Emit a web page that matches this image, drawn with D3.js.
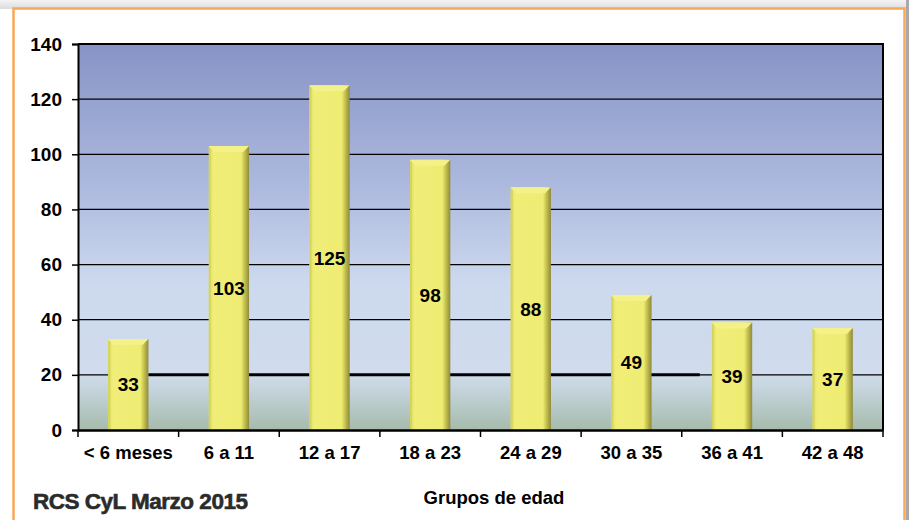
<!DOCTYPE html>
<html>
<head>
<meta charset="utf-8">
<script src="https://cdn.jsdelivr.net/npm/d3@7"></script>
<style>
  body { margin: 0; background: #ffffff; }
  text { font-family: Arial, "Liberation Sans", sans-serif; }
</style>
</head>
<body>
<div id="chart"></div>
<script>
var categories = ["< 6 meses", "6 a 11", "12 a 17", "18 a 23", "24 a 29", "30 a 35", "36 a 41", "42 a 48"];
var values = [33, 103, 125, 98, 88, 49, 39, 37];
var yTicks = [0, 20, 40, 60, 80, 100, 120, 140];

var width = 909;
var height = 520;
var plot = { left: 78, right: 883, top: 44, bottom: 430 };

var svg = d3.select("#chart")
  .append("svg")
  .attr("width", width)
  .attr("height", height);

var defs = svg.append("defs");

// soft shadow behind the frame
var sh = defs.append("linearGradient").attr("id", "topShadow").attr("x1", 0).attr("y1", 0).attr("x2", 0).attr("y2", 1);
sh.append("stop").attr("offset", "0%").attr("stop-color", "#f4f4f4");
sh.append("stop").attr("offset", "100%").attr("stop-color", "#dcdcdc");
svg.append("rect").attr("x", 0).attr("y", 0).attr("width", width).attr("height", 9).attr("fill", "url(#topShadow)");
svg.append("rect").attr("x", 906).attr("y", 0).attr("width", 3).attr("height", height).attr("fill", "#a9a9a9");

// orange frame
svg.append("rect")
  .attr("x", 13.5).attr("y", 8.5)
  .attr("width", 891).attr("height", 530)
  .attr("fill", "#ffffff")
  .attr("stroke", "#f7a85a")
  .attr("stroke-width", 2.5);

// plot background gradient
var bg = defs.append("linearGradient").attr("id", "plotBg").attr("x1", 0).attr("y1", 0).attr("x2", 0).attr("y2", 1);
bg.append("stop").attr("offset", "0%").attr("stop-color", "#8893c6");
bg.append("stop").attr("offset", "40%").attr("stop-color", "#b0bde0");
bg.append("stop").attr("offset", "62%").attr("stop-color", "#cdd9ee");
bg.append("stop").attr("offset", "85%").attr("stop-color", "#d0dcec");
bg.append("stop").attr("offset", "89%").attr("stop-color", "#c6d5de");
bg.append("stop").attr("offset", "100%").attr("stop-color", "#a6bbac");

// bar gradients
var barG = defs.append("linearGradient").attr("id", "barFace").attr("x1", 0).attr("y1", 0).attr("x2", 1).attr("y2", 0);
barG.append("stop").attr("offset", "0%").attr("stop-color", "#dede60");
barG.append("stop").attr("offset", "12%").attr("stop-color", "#f0ee78");
barG.append("stop").attr("offset", "80%").attr("stop-color", "#eeec72");
barG.append("stop").attr("offset", "88%").attr("stop-color", "#c9c550");
barG.append("stop").attr("offset", "100%").attr("stop-color", "#8e8a3c");

var x = d3.scaleBand()
  .domain(categories)
  .range([plot.left, plot.right])
  .paddingInner(0.6)
  .paddingOuter(0.3);

var xOuter = d3.scaleBand()
  .domain(categories)
  .range([plot.left, plot.right]);

var y = d3.scaleLinear()
  .domain([0, 140])
  .range([plot.bottom, plot.top]);

svg.append("rect")
  .attr("x", plot.left).attr("y", plot.top)
  .attr("width", plot.right - plot.left)
  .attr("height", plot.bottom - plot.top)
  .attr("fill", "url(#plotBg)");

// gridlines
svg.append("g")
  .selectAll("line")
  .data(yTicks.filter(d => d > 0))
  .enter()
  .append("line")
  .attr("x1", plot.left).attr("x2", plot.right)
  .attr("y1", d => y(d)).attr("y2", d => y(d))
  .attr("stroke", "#000")
  .attr("stroke-width", 1.3);

// the heavier stretch of the 20 line
svg.append("line")
  .attr("x1", x(categories[0]) + x.bandwidth())
  .attr("x2", xOuter(categories[6]) + 18)
  .attr("y1", y(20)).attr("y2", y(20))
  .attr("stroke", "#000")
  .attr("stroke-width", 3);

// bars
var bars = svg.append("g")
  .selectAll("g")
  .data(values)
  .enter()
  .append("g");

bars.append("rect")
  .attr("x", (d, i) => x(categories[i]))
  .attr("y", d => y(d))
  .attr("width", x.bandwidth())
  .attr("height", d => y(0) - y(d))
  .attr("fill", "url(#barFace)");

// top bevel
bars.append("path")
  .attr("d", (d, i) => {
    var x0 = x(categories[i]), x1 = x0 + x.bandwidth(), t = y(d);
    return "M" + x0 + "," + t + "L" + x1 + "," + t + "L" + (x1 - 6) + "," + (t + 6) + "L" + (x0 + 5) + "," + (t + 6) + "Z";
  })
  .attr("fill", "#f3f188");

// left edge highlight
bars.append("rect")
  .attr("x", (d, i) => x(categories[i]))
  .attr("y", d => y(d) + 2)
  .attr("width", 2)
  .attr("height", d => y(0) - y(d) - 2)
  .attr("fill", "#d6d45c");

bars.append("text")
  .attr("x", (d, i) => x(categories[i]) + x.bandwidth() / 2)
  .attr("y", d => (y(d) + y(0)) / 2)
  .attr("dy", "0.36em")
  .attr("text-anchor", "middle")
  .attr("font-size", 19)
  .attr("font-weight", "bold")
  .attr("fill", "#000")
  .text(d => d);

// plot frame (top and right)
svg.append("path")
  .attr("d", "M" + plot.left + "," + plot.top + "H" + plot.right + "V" + plot.bottom)
  .attr("fill", "none")
  .attr("stroke", "#000")
  .attr("stroke-width", 2);

// y axis
var yAxis = svg.append("g")
  .attr("transform", "translate(" + plot.left + ",0)")
  .call(d3.axisLeft(y).tickValues(yTicks).tickSize(6).tickPadding(10));
yAxis.select(".domain").attr("stroke-width", 2);
yAxis.selectAll(".tick line").attr("stroke-width", 1.5);
yAxis.selectAll("text")
  .attr("font-size", 19)
  .attr("font-weight", "bold")
  .attr("font-family", "Arial, 'Liberation Sans', sans-serif")
  .attr("fill", "#000");

// x axis
var xAxis = svg.append("g")
  .attr("transform", "translate(0," + plot.bottom + ")")
  .call(d3.axisBottom(xOuter).tickSize(0).tickPadding(16));
xAxis.select(".domain").attr("stroke-width", 2.5);
xAxis.selectAll("text")
  .attr("font-size", 18.5)
  .attr("font-weight", "bold")
  .attr("font-family", "Arial, 'Liberation Sans', sans-serif")
  .attr("fill", "#000");

// category boundary ticks
svg.append("g")
  .selectAll("line")
  .data(categories)
  .enter()
  .append("line")
  .attr("x1", d => xOuter(d)).attr("x2", d => xOuter(d))
  .attr("y1", plot.bottom).attr("y2", plot.bottom + 7)
  .attr("stroke", "#000").attr("stroke-width", 1.5);
svg.append("line")
  .attr("x1", plot.right).attr("x2", plot.right)
  .attr("y1", plot.bottom).attr("y2", plot.bottom + 7)
  .attr("stroke", "#000").attr("stroke-width", 1.5);

// axis title
svg.append("text")
  .attr("x", 494).attr("y", 504)
  .attr("text-anchor", "middle")
  .attr("font-size", 18.5)
  .attr("font-weight", "bold")
  .attr("fill", "#000")
  .text("Grupos de edad");

// source label
svg.append("text")
  .attr("x", 33).attr("y", 509)
  .attr("font-family", "'Open Sans', 'DejaVu Sans', sans-serif")
  .attr("font-size", 22.5)
  .attr("font-weight", "bold")
  .attr("fill", "#2b2b2b")
  .attr("stroke", "#2b2b2b")
  .attr("stroke-width", 0.6)
  .attr("letter-spacing", -0.5)
  .text("RCS CyL Marzo 2015");
</script>
</body>
</html>
